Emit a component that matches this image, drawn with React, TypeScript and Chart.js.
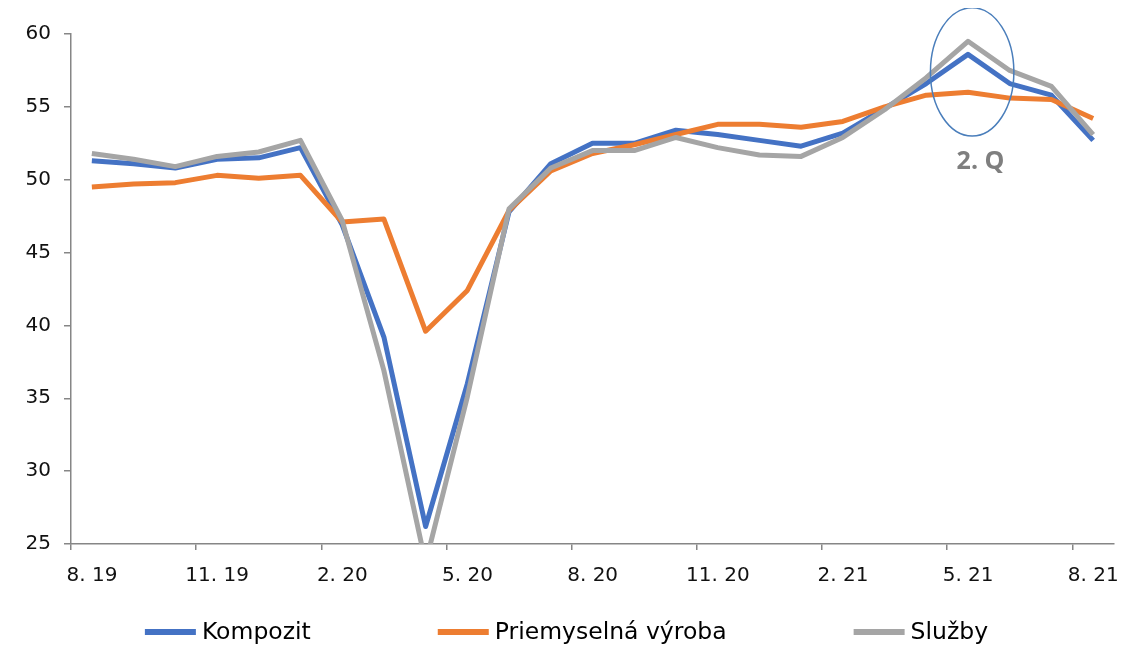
import React, { useEffect, useRef } from "react";
import { Chart, registerables } from "chart.js";

Chart.register(...registerables);

// ---- data ----
const months = [
  "8. 19", "9. 19", "10. 19", "11. 19", "12. 19", "1. 20", "2. 20", "3. 20", "4. 20",
  "5. 20", "6. 20", "7. 20", "8. 20", "9. 20", "10. 20", "11. 20", "12. 20", "1. 21",
  "2. 21", "3. 21", "4. 21", "5. 21", "6. 21", "7. 21", "8. 21",
];
const seriesNames = ["Kompozit", "Priemyselná výroba", "Služby"];
const kompozit = [51.3, 51.1, 50.8, 51.4, 51.5, 52.2, 46.9, 39.2, 26.2, 36.0, 47.8, 51.1, 52.5, 52.5, 53.4, 53.1, 52.7, 52.3, 53.2, 54.9, 56.6, 58.6, 56.6, 55.8, 52.7];
const priemysel = [49.5, 49.7, 49.8, 50.3, 50.1, 50.3, 47.1, 47.3, 39.6, 42.4, 47.9, 50.6, 51.8, 52.4, 53.1, 53.8, 53.8, 53.6, 54.0, 55.0, 55.8, 56.0, 55.6, 55.5, 54.2];
const sluzby = [51.8, 51.4, 50.9, 51.6, 51.9, 52.7, 47.2, 36.9, 23.7, 35.1, 48.0, 50.8, 52.0, 52.0, 52.9, 52.2, 51.7, 51.6, 52.9, 54.8, 57.0, 59.5, 57.5, 56.4, 53.1];
const tickStepMonths = 3;
const yMin = 25;
const yMax = 60;
const yStep = 5;
const highlightMonth = "5. 21";
const highlightLabel = "2. Q";
const ellipseRange = [53.0, 61.8];
const labelValue = 51.2;

const colors = ["#4472C4", "#ED7D31", "#A5A5A5"];
const axisColor = "#868686";
const tickFont = { family: "DejaVu Sans", size: 20 };

const annotationPlugin = {
  id: "qAnnotation",
  afterDraw(chart: any) {
    const { ctx } = chart;
    const xs = chart.scales.x;
    const ys = chart.scales.y;
    const idx = months.indexOf(highlightMonth);
    const cx = xs.getPixelForValue(idx + 0.6);
    const rx = xs.getPixelForValue(idx + 1.6) - cx;
    const top = ys.getPixelForValue(ellipseRange[1]);
    const bottom = ys.getPixelForValue(ellipseRange[0]);
    ctx.save();
    ctx.beginPath();
    ctx.ellipse(cx, (top + bottom) / 2, rx, (bottom - top) / 2, 0, 0, Math.PI * 2);
    ctx.strokeStyle = "#4A7EBB";
    ctx.lineWidth = 1.5;
    ctx.stroke();
    ctx.font = "bold 25px 'Open Sans'";
    ctx.fillStyle = "#7F7F7F";
    ctx.textAlign = "center";
    ctx.textBaseline = "middle";
    ctx.fillText(highlightLabel, xs.getPixelForValue(idx + 0.8), ys.getPixelForValue(labelValue));
    ctx.restore();
  },
};

const legendPlugin = {
  id: "customLegend",
  afterDraw(chart: any) {
    const { ctx } = chart;
    const datasets = chart.data.datasets;
    const boxW = 51;
    const boxH = 6;
    const textGap = 6;
    const itemGap = 127;
    const y = 624;
    ctx.save();
    ctx.font = "23.5px 'DejaVu Sans'";
    ctx.textBaseline = "middle";
    ctx.textAlign = "left";
    const widths = datasets.map((d: any) => boxW + textGap + ctx.measureText(d.label).width);
    const total = widths.reduce((a: number, b: number) => a + b, 0) + itemGap * (widths.length - 1);
    let x = chart.width / 2 - 4 - total / 2;
    datasets.forEach((d: any, i: number) => {
      ctx.fillStyle = d.borderColor;
      ctx.fillRect(x, y - boxH / 2, boxW, boxH);
      ctx.fillStyle = "#000";
      ctx.fillText(d.label, x + boxW + textGap, y + 1);
      x += widths[i] + itemGap;
    });
    ctx.restore();
  },
};

export default function App() {
  const ref = useRef<HTMLCanvasElement>(null);
  useEffect(() => {
    if (!ref.current) return;
    const all = [kompozit, priemysel, sluzby];
    const chart = new Chart(ref.current, {
      type: "line",
      data: {
        datasets: all.map((vals, si) => ({
          label: seriesNames[si],
          data: vals.map((v, i) => ({ x: i + 0.5, y: v })),
          borderColor: colors[si],
          backgroundColor: colors[si],
          borderWidth: 5,
          pointRadius: 0,
          borderJoinStyle: "round" as const,
          borderCapStyle: "butt" as const,
          tension: 0,
          fill: false,
          order: 3 - si,
        })),
      },
      options: {
        animation: false,
        responsive: true,
        maintainAspectRatio: false,
        layout: { padding: { top: 26, right: 19, left: 0, bottom: 0 } },
        plugins: { legend: { display: false }, tooltip: { enabled: false } },
        scales: {
          x: {
            type: "linear",
            min: 0,
            max: months.length,
            afterBuildTicks: (s: any) => {
              s.ticks = months
                .map((_, i) => i)
                .filter((i) => i % tickStepMonths === 0)
                .map((v) => ({ value: v }));
            },
            afterFit: (s: any) => {
              s.height = 103;
            },
            ticks: {
              autoSkip: false,
              maxRotation: 0,
              padding: 14,
              labelOffset: 21,
              color: "#111",
              font: tickFont,
              callback: (v: any) => months[v] ?? "",
            },
            grid: {
              drawOnChartArea: false,
              drawTicks: true,
              tickLength: 6,
              color: axisColor,
              lineWidth: 1.5,
            },
            border: { display: true, color: axisColor, width: 1.5 },
          },
          y: {
            min: yMin,
            max: yMax,
            afterFit: (s: any) => {
              s.width = 63;
            },
            ticks: {
              stepSize: yStep,
              padding: 13,
              color: "#111",
              font: tickFont,
            },
            grid: {
              drawOnChartArea: false,
              drawTicks: true,
              tickLength: 7,
              color: axisColor,
              lineWidth: 1.5,
            },
            border: { display: true, color: axisColor, width: 1.5 },
          },
        },
      },
      plugins: [annotationPlugin, legendPlugin],
    });
    return () => chart.destroy();
  }, []);
  return (
    <div style={{ width: 1125, height: 639, position: "relative" }}>
      <canvas ref={ref} />
    </div>
  );
}
